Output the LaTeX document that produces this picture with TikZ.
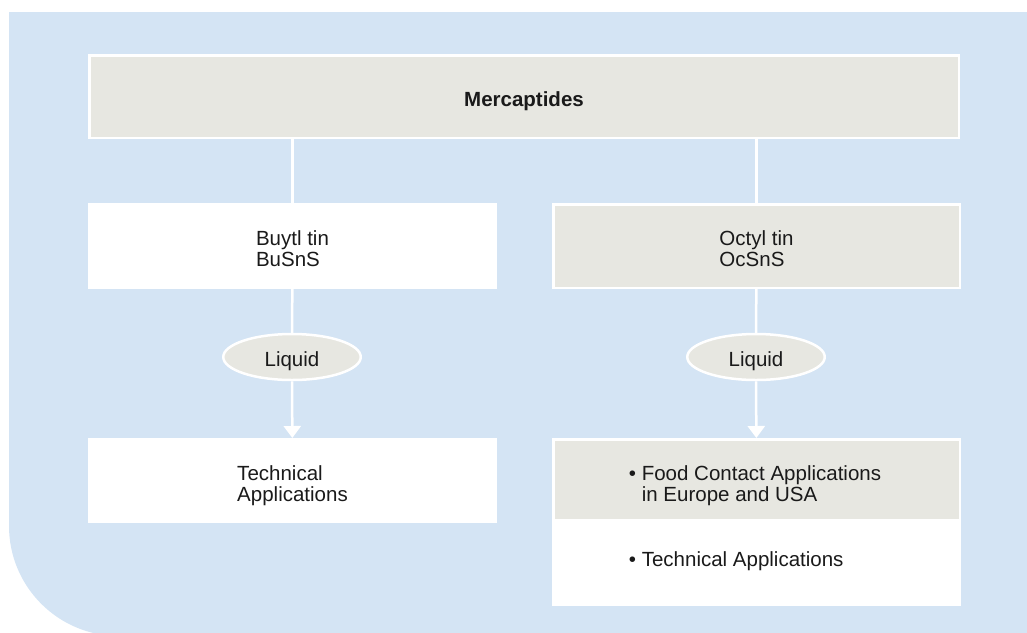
\documentclass[tikz,border=0pt]{standalone}
\usepackage{fontspec}
\setmainfont{Liberation Sans}
\usetikzlibrary{arrows.meta,shapes.geometric}

\definecolor{bgblue}{RGB}{212,228,244}
\definecolor{boxgrey}{RGB}{231,231,225}
\definecolor{txtblack}{RGB}{26,26,26}

% lines of a box, set a little low as in the print
\newcommand{\shiftdown}[2][6pt]{\raisebox{-#1}[\height][\depth]{\begin{tabular}{@{}l@{}}#2\end{tabular}}}

\begin{document}
\begin{tikzpicture}[x=1pt,y=-1pt,
  box/.style={draw=white,line width=2.5pt,inner sep=0pt,text=txtblack,
    font=\fontsize{20.5}{21}\selectfont,minimum width=406.5pt,minimum height=82.5pt},
  greybox/.style={box,fill=boxgrey},
  whitebox/.style={box,fill=white},
  liquid/.style={ellipse,draw=white,line width=2.5pt,fill=boxgrey,inner sep=0pt,
    text=txtblack,font=\fontsize{20.5}{21}\selectfont,minimum width=137.5pt,minimum height=46pt},
  boxtext/.style={anchor=west,inner sep=0pt,align=left,text=txtblack,font=\fontsize{20.5}{21}\selectfont},
  link/.style={draw=white,line width=2.5pt}]
\useasboundingbox (0,0) rectangle (1027,632);
% background
\begin{scope}
\clip (0,0) rectangle (1027,632);
\fill[bgblue] (9,12) -- (1027,12) -- (1027,636) -- (119,636)
  .. controls (58.25,636) and (9,586.75) .. (9,526) -- cycle;
\end{scope}

% top
\node[greybox,minimum width=869.5pt] (merc) at (524,96.5) {\shiftdown{\textbf{Mercaptides}}};

% left branch
\node[whitebox,minimum height=83.5pt] (butyl) at (292.5,246) {\shiftdown{Buytl tin\\BuSnS}};
\node[liquid] (butliq) at (292,357) {\shiftdown[5pt]{Liquid}};
\node[whitebox] (butapp) at (292.5,480.5) {\shiftdown{Technical\\Applications}};

% right branch
\node[greybox,minimum height=83.5pt] (octyl) at (756.5,246) {\shiftdown{Octyl tin\\OcSnS}};
\node[liquid] (octliq) at (756,357) {\shiftdown[5pt]{Liquid}};
\node[greybox,minimum height=80.5pt] (octfood) at (756.5,479.5) {};
\node[whitebox] (octtech) at (756.5,563.5) {};
\node[boxtext] (foodtxt) at ([xshift=76.75pt,yshift=-6pt]octfood.west)
  {\textbullet\ Food Contact Applications\\\phantom{\textbullet\ }in Europe and USA};
\node[boxtext] (techtxt) at ([xshift=76.75pt,yshift=2.5pt]octtech.west) {\textbullet\ Technical Applications};

% connectors
\draw[link] (butyl.north |- merc.south) -- (butyl.north);
\draw[link] (octyl.north |- merc.south) -- (octyl.north);
\draw[link] (butyl) -- (butliq);
\draw[link] (octyl) -- (octliq);
\draw[link,-{Triangle[width=17pt,length=12pt]}] (butliq) -- (butapp);
\draw[link,-{Triangle[width=17pt,length=12pt]}] (octliq) -- (octfood);
\end{tikzpicture}
\end{document}
